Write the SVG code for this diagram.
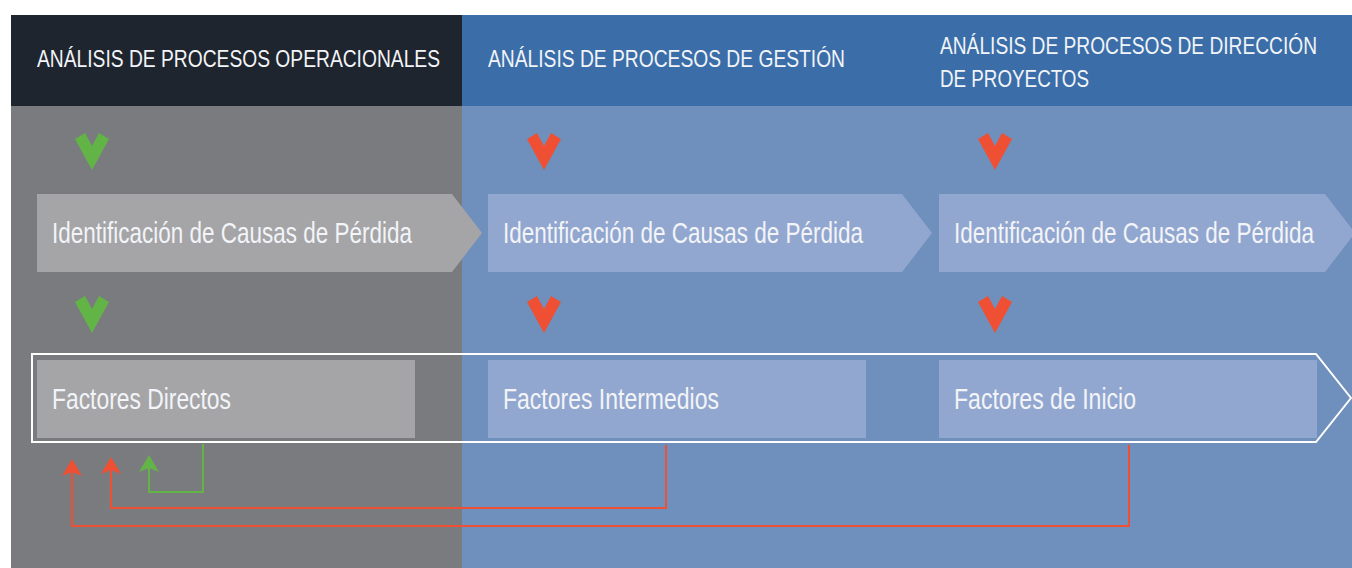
<svg xmlns="http://www.w3.org/2000/svg" width="1352" height="568" viewBox="0 0 1352 568">
<style>
.t{font-family:"Liberation Sans",Arial,sans-serif;fill:#f2f4f8;}
.h{font-size:24px;}
.b{font-size:29px;}
.gp{fill:#a5a5a7;}
.bp{fill:#92a7cf;}
.gv{fill:#63b446;}
.rv{fill:#ef5033;}
.gl{fill:none;stroke:#63b446;stroke-width:2;}
.rl{fill:none;stroke:#ef5033;stroke-width:2;}
</style>
<defs>
<path id="v" d="M-17,6 L-7,0 L0,13 L7,0 L17,6 L0,37 Z"/>
<path id="ah" d="M0,0 L10,17 L0,13 L-10,17 Z"/>
</defs>
<rect x="0" y="0" width="1352" height="568" fill="#ffffff"/>
<g id="panels">
<rect x="11" y="15" width="451" height="91" fill="#1f252e"/>
<rect x="462" y="15" width="890" height="91" fill="#3b6ea8"/>
<rect x="11" y="106" width="451" height="462" fill="#7a7b7f"/>
<rect x="462" y="106" width="890" height="462" fill="#6f8fbd"/>
</g>
<g id="headers">
<text class="t h" x="37" y="67" textLength="403" lengthAdjust="spacingAndGlyphs">ANÁLISIS DE PROCESOS OPERACIONALES</text>
<text class="t h" x="488" y="67" textLength="357" lengthAdjust="spacingAndGlyphs">ANÁLISIS DE PROCESOS DE GESTIÓN</text>
<text class="t h" x="940" y="54" textLength="377" lengthAdjust="spacingAndGlyphs">ANÁLISIS DE PROCESOS DE DIRECCIÓN</text>
<text class="t h" x="940" y="87" textLength="149" lengthAdjust="spacingAndGlyphs">DE PROYECTOS</text>
</g>
<g id="chevrons">
<use href="#v" class="gv" x="92" y="133"/>
<use href="#v" class="rv" x="544" y="133"/>
<use href="#v" class="rv" x="995" y="133"/>
<use href="#v" class="gv" x="92" y="296"/>
<use href="#v" class="rv" x="544" y="296"/>
<use href="#v" class="rv" x="995" y="296"/>
</g>
<g id="causas1">
<polygon class="gp" points="37,194 452,194 482,233 452,272 37,272"/>
<text class="t b" x="52" y="243" textLength="360" lengthAdjust="spacingAndGlyphs">Identificación de Causas de Pérdida</text>
</g>
<g id="causas2">
<polygon class="bp" points="488,194 902,194 932,233 902,272 488,272"/>
<text class="t b" x="503" y="243" textLength="360" lengthAdjust="spacingAndGlyphs">Identificación de Causas de Pérdida</text>
</g>
<g id="causas3">
<polygon class="bp" points="939,194 1325,194 1355,233 1325,272 939,272"/>
<text class="t b" x="954" y="243" textLength="360" lengthAdjust="spacingAndGlyphs">Identificación de Causas de Pérdida</text>
</g>
<g id="factores-frame">
<polygon points="32,354 1316,354 1351,398 1316,442 32,442" fill="none" stroke="#ffffff" stroke-width="2"/>
</g>
<g id="factores-directos">
<rect class="gp" x="37" y="360" width="378" height="78"/>
<text class="t b" x="52" y="409" textLength="179" lengthAdjust="spacingAndGlyphs">Factores Directos</text>
</g>
<g id="factores-intermedios">
<rect class="bp" x="488" y="360" width="378" height="78"/>
<text class="t b" x="503" y="409" textLength="216" lengthAdjust="spacingAndGlyphs">Factores Intermedios</text>
</g>
<g id="factores-inicio">
<rect class="bp" x="939" y="360" width="378" height="78"/>
<text class="t b" x="954" y="409" textLength="182" lengthAdjust="spacingAndGlyphs">Factores de Inicio</text>
</g>
<g id="connectors">
<polyline class="gl" points="203,444 203,492 149,492 149,466"/>
<use href="#ah" class="gv" x="149" y="455"/>
<polyline class="rl" points="666,445 666,508 111,508 111,468"/>
<use href="#ah" class="rv" x="111" y="457"/>
<polyline class="rl" points="1129,445 1129,526 72,526 72,470"/>
<use href="#ah" class="rv" x="72" y="459"/>
</g>
</svg>
